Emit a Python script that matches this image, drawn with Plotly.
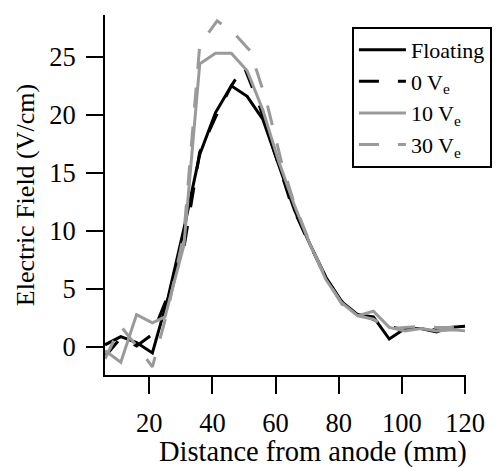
import plotly.graph_objects as go

# Data
floating_x = [6, 11, 16, 21, 26, 31, 36, 41, 46, 51, 56, 61, 66, 71, 76, 81, 86, 91, 96, 101, 106, 111, 115, 120]
floating_y = [0.2, 0.9, 0.4, -0.5, 4.3, 10.2, 16.6, 20.2, 22.5, 21.6, 19.6, 15.6, 11.8, 8.8, 6.0, 3.9, 2.8, 2.6, 0.7, 1.6, 1.6, 1.3, 1.7, 1.8]

v0_x = [6, 11, 16, 21, 26, 31, 36, 41, 46, 50, 55, 60, 65, 70, 75, 80, 85, 90, 95, 100, 105, 110, 115, 120]
v0_y = [-0.8, 0.8, 0.1, 1.1, 4.5, 8.6, 16.8, 19.8, 22.5, 24.2, 20.7, 16.6, 12.3, 9.3, 6.5, 4.2, 2.9, 2.5, 1.9, 1.5, 1.6, 1.5, 1.6, 1.7]

v10_x = [6, 11, 16, 21, 25, 31, 36, 41, 46, 51, 56, 61, 66, 71, 76, 81, 86, 91, 96, 101, 106, 111, 116, 120]
v10_y = [-0.3, -1.3, 2.8, 2.1, 2.6, 8.8, 24.4, 25.3, 25.3, 23.8, 20.4, 16.0, 12.2, 8.8, 5.8, 3.8, 2.7, 3.1, 1.7, 1.4, 1.6, 1.4, 1.5, 1.4]

v30_x = [6, 11, 16, 21, 26, 31, 36, 41.5, 47, 52, 57, 62, 66, 71, 76, 81, 86, 91, 96, 101, 106, 111, 116, 120]
v30_y = [-1.0, 1.8, 0.1, -1.7, 3.3, 9.8, 26.0, 28.1, 27.0, 25.5, 21.3, 15.8, 12.3, 8.9, 5.9, 3.7, 2.7, 2.4, 1.6, 1.7, 1.8, 1.7, 1.7, 1.4]

x_ticks = [20, 40, 60, 80, 100, 120]
y_ticks = [0, 5, 10, 15, 20, 25]
x_title = "Distance from anode (mm)"
y_title = "Electric Field (V/cm)"

FONT = "Liberation Serif, Times New Roman, serif"
GRAY = "#9a9a9a"
DASH = "20px,19px"

fig = go.Figure()
fig.add_trace(go.Scatter(x=floating_x, y=floating_y, mode="lines", name="Floating",
                         line=dict(color="black", width=3)))
fig.add_trace(go.Scatter(x=v0_x, y=v0_y, mode="lines", name="0 V<sub>e</sub>",
                         line=dict(color="black", width=3, dash=DASH)))
fig.add_trace(go.Scatter(x=v10_x, y=v10_y, mode="lines", name="10 V<sub>e</sub>",
                         line=dict(color=GRAY, width=3)))
fig.add_trace(go.Scatter(x=v30_x, y=v30_y, mode="lines", name="30 V<sub>e</sub>",
                         line=dict(color=GRAY, width=3, dash=DASH)))

fig.add_annotation(text=x_title, xref="paper", yref="paper", x=0.576, y=-0.214,
                   xanchor="center", yanchor="middle", showarrow=False,
                   font=dict(family=FONT, size=28.5, color="black"))

fig.update_layout(
    width=497, height=468,
    margin=dict(l=105, r=31, t=15, b=93, autoexpand=False),
    paper_bgcolor="white", plot_bgcolor="white",
    font=dict(family=FONT, size=26, color="black"),
    legend=dict(x=0.684, y=0.967, xanchor="left", yanchor="top",
                bordercolor="black", borderwidth=2, bgcolor="white",
                font=dict(family=FONT, size=22, color="black"),
                itemwidth=47, tracegroupgap=0),
    xaxis=dict(range=[6.0, 120.3], tickvals=x_ticks, ticks="outside", ticklen=17,
               tickwidth=2, tickcolor="black", showline=True, linewidth=2,
               linecolor="black", showgrid=False, zeroline=False, automargin=False,
               tickfont=dict(size=26.5), ticklabelstandoff=6),
    yaxis=dict(range=[-2.4, 28.6], tickvals=y_ticks, ticks="outside", ticklen=17,
               tickwidth=2, tickcolor="black", showline=True, linewidth=2,
               linecolor="black", showgrid=False, zeroline=False, automargin=False,
               tickfont=dict(size=26.5), ticklabelstandoff=5,
               title=dict(text=y_title, font=dict(size=26), standoff=7)),
)

fig.write_html("out.html", config={"displayModeBar": False},
               post_script="document.body.style.margin='0';")
